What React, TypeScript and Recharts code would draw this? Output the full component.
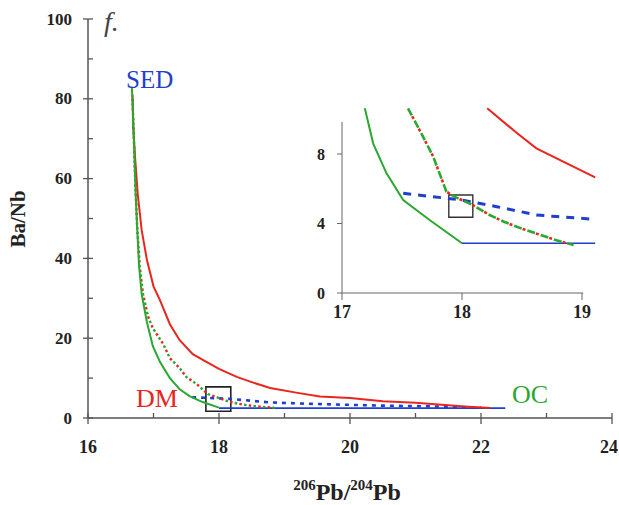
import React from "react";
import { ComposedChart, Line, XAxis, YAxis, ReferenceArea, ReferenceLine } from "recharts";

// ---------- Main panel data ----------
const mainXTicks = [16, 17, 18, 19, 20, 21, 22, 23, 24];
const mainYTicks = [0, 10, 20, 30, 40, 50, 60, 70, 80, 90, 100];

const greenSolid = [
  { x: 16.67, y: 83 }, { x: 16.69, y: 75 }, { x: 16.71, y: 65 }, { x: 16.73, y: 55 },
  { x: 16.75, y: 48 }, { x: 16.78, y: 38 }, { x: 16.82, y: 31 }, { x: 16.9, y: 24 },
  { x: 16.99, y: 18 }, { x: 17.1, y: 14 }, { x: 17.25, y: 10 }, { x: 17.4, y: 7.2 },
  { x: 17.55, y: 5.5 }, { x: 17.75, y: 4 }, { x: 18.0, y: 2.6 },
];

const redSolid = [
  { x: 16.68, y: 81 }, { x: 16.69, y: 73 }, { x: 16.72, y: 65 }, { x: 16.76, y: 56 },
  { x: 16.82, y: 47 }, { x: 16.9, y: 39.6 }, { x: 17.0, y: 33 }, { x: 17.1, y: 29.5 },
  { x: 17.25, y: 23.5 }, { x: 17.4, y: 19.5 }, { x: 17.6, y: 16 }, { x: 17.76, y: 14.5 },
  { x: 18.0, y: 12.3 }, { x: 18.27, y: 10.3 }, { x: 18.5, y: 9 }, { x: 18.78, y: 7.5 },
  { x: 19.2, y: 6.3 }, { x: 19.54, y: 5.4 }, { x: 20.0, y: 5.0 }, { x: 20.5, y: 4.2 },
  { x: 21.0, y: 3.8 }, { x: 21.4, y: 3.3 }, { x: 21.75, y: 2.9 }, { x: 22.14, y: 2.5 },
];

const mixDashed = [
  { x: 16.68, y: 80 }, { x: 16.7, y: 70 }, { x: 16.72, y: 60 }, { x: 16.75, y: 48 },
  { x: 16.79, y: 38 }, { x: 16.84, y: 31 }, { x: 16.92, y: 25.3 }, { x: 16.99, y: 22.5 },
  { x: 17.15, y: 18.5 }, { x: 17.25, y: 15 }, { x: 17.4, y: 12.5 }, { x: 17.5, y: 10.3 },
  { x: 17.66, y: 8.5 }, { x: 17.83, y: 6 }, { x: 18.0, y: 5 }, { x: 18.17, y: 4 },
  { x: 18.35, y: 3.4 }, { x: 18.52, y: 3 }, { x: 18.88, y: 2.5 },
];

const blueDashed = [
  { x: 17.59, y: 5.2 }, { x: 18.17, y: 4.8 }, { x: 18.78, y: 3.9 }, { x: 19.5, y: 3.5 },
  { x: 20.5, y: 3.1 }, { x: 21.3, y: 2.9 }, { x: 22.0, y: 2.6 },
];

const blueSolid = [{ x: 18.0, y: 2.5 }, { x: 22.37, y: 2.5 }];

// ---------- Inset data ----------
const insetXTicks = [17, 18, 19];
const insetYTicks = [0, 4, 8];

const insetGreenSolid = [
  { x: 17.19, y: 10.63 }, { x: 17.26, y: 8.6 }, { x: 17.37, y: 6.9 }, { x: 17.51, y: 5.35 },
  { x: 17.73, y: 4.2 }, { x: 18.0, y: 2.86 },
];
const insetBlueSolid = [{ x: 18.0, y: 2.86 }, { x: 19.11, y: 2.86 }];
const insetRedSolid = [
  { x: 18.21, y: 10.63 }, { x: 18.46, y: 9.19 }, { x: 18.62, y: 8.33 }, { x: 19.11, y: 6.66 },
];
const insetMixDashed = [
  { x: 17.55, y: 10.63 }, { x: 17.66, y: 9.2 }, { x: 17.76, y: 7.85 }, { x: 17.87, y: 5.83 },
  { x: 17.95, y: 5.5 }, { x: 18.09, y: 5.06 }, { x: 18.23, y: 4.49 }, { x: 18.35, y: 4.1 },
  { x: 18.5, y: 3.7 }, { x: 18.65, y: 3.35 }, { x: 18.78, y: 3.05 }, { x: 18.93, y: 2.76 },
];
const insetBlueDashed = [
  { x: 17.51, y: 5.74 }, { x: 18.0, y: 5.35 }, { x: 18.29, y: 4.97 }, { x: 18.62, y: 4.49 },
  { x: 18.79, y: 4.4 }, { x: 19.11, y: 4.24 },
];

const RED = "#e8261e";
const GREEN = "#2aa830";
const BLUE = "#1f3fcc";
const AXIS = "#555";
const FONT = "Liberation Serif, Times New Roman, Times, DejaVu Serif, serif";

const MainXTick = (props: any) => {
  const { x, y, payload } = props;
  const v = payload.value;
  const major = v % 2 === 0;
  const last = v === 24;
  return (
    <g>
      <line x1={x} x2={x} y1={y - 5} y2={major ? y + 6 : y} stroke={AXIS} strokeWidth={1.3} />
      {major && (
        <text
          x={last ? 618 : x}
          y={y + 35}
          textAnchor={last ? "end" : "middle"}
          style={{ fontFamily: FONT, fontWeight: "bold", fontSize: 18 }}
          fill="#222"
        >
          {v}
        </text>
      )}
    </g>
  );
};

const MainYTick = (props: any) => {
  const { x, y, payload } = props;
  const v = payload.value;
  const major = v % 20 === 0;
  return (
    <g>
      <line x1={major ? x - 5 : x} x2={x + 5} y1={y} y2={y} stroke={AXIS} strokeWidth={1.3} />
      {major && (
        <text x={x - 16} y={y + 5.5} textAnchor="end" style={{ fontFamily: FONT, fontWeight: "bold", fontSize: 17 }} fill="#222">
          {v}
        </text>
      )}
    </g>
  );
};

const InsetXTick = (props: any) => {
  const { x, y, payload } = props;
  return (
    <g>
      <line x1={x} x2={x} y1={y} y2={y + 7} stroke="#666" strokeWidth={1} />
      <text x={x} y={y + 25} textAnchor="middle" style={{ fontFamily: FONT, fontWeight: "bold", fontSize: 18 }} fill="#222">
        {payload.value}
      </text>
    </g>
  );
};

const InsetYTick = (props: any) => {
  const { x, y, payload } = props;
  return (
    <g>
      <line x1={x - 5} x2={x} y1={y} y2={y} stroke="#666" strokeWidth={1} />
      <text x={x - 17} y={y + 5.5} textAnchor="end" style={{ fontFamily: FONT, fontWeight: "bold", fontSize: 16 }} fill="#222">
        {payload.value}
      </text>
    </g>
  );
};

export default function App() {
  return (
    <div style={{ position: "absolute", left: 0, top: 0, width: 619, height: 505, background: "#fff", fontFamily: FONT }}>
      <div style={{ position: "absolute", left: 0, top: 0 }}>
        <ComposedChart width={619} height={505} margin={{ top: 19, right: 7, bottom: 0, left: 0 }}>
          <XAxis
            type="number"
            dataKey="x"
            domain={[16, 24]}
            ticks={mainXTicks}
            interval={0}
            height={87}
            tickSize={0}
            tickMargin={0}
            tickLine={false}
            tick={<MainXTick />}
            axisLine={{ stroke: AXIS, strokeWidth: 1.5 }}
            allowDataOverflow
          />
          <YAxis
            type="number"
            dataKey="y"
            domain={[0, 100]}
            ticks={mainYTicks}
            interval={0}
            width={88}
            tickSize={0}
            tickMargin={0}
            tickLine={false}
            tick={<MainYTick />}
            axisLine={{ stroke: AXIS, strokeWidth: 1.5 }}
            allowDataOverflow
          />
          <Line data={blueSolid} dataKey="y" stroke={BLUE} strokeWidth={1.8} dot={false} activeDot={false} isAnimationActive={false} />
          <Line data={blueDashed} dataKey="y" stroke={BLUE} strokeWidth={2.6} strokeDasharray="4 5" dot={false} activeDot={false} isAnimationActive={false} />
          <Line data={redSolid} dataKey="y" stroke={RED} strokeWidth={2} dot={false} activeDot={false} isAnimationActive={false} />
          <Line data={mixDashed} dataKey="y" stroke={RED} strokeWidth={2.4} strokeDasharray="2.5 7" dot={false} activeDot={false} isAnimationActive={false} />
          <Line data={mixDashed} dataKey="y" stroke={GREEN} strokeWidth={2.4} strokeDasharray="2.5 7" strokeDashoffset={4.75} dot={false} activeDot={false} isAnimationActive={false} />
          <Line data={greenSolid} dataKey="y" stroke={GREEN} strokeWidth={2} dot={false} activeDot={false} isAnimationActive={false} />
          <ReferenceArea x1={17.8} x2={18.18} y1={1.7} y2={7.8} fill="none" fillOpacity={0} stroke="#222" strokeWidth={1.6} />
        </ComposedChart>
      </div>

      <div style={{ position: "absolute", left: 290, top: 95 }}>
        <ComposedChart width={320} height={250} margin={{ top: 12.1, right: 13.6, bottom: 0, left: 0 }}>
          <XAxis
            type="number"
            dataKey="x"
            domain={[17, 19.12]}
            ticks={insetXTicks}
            interval={0}
            height={52}
            tickSize={0}
            tickMargin={0}
            tickLine={false}
            tick={<InsetXTick />}
            axisLine={false}
            allowDataOverflow
          />
          <YAxis
            type="number"
            dataKey="y"
            domain={[0, 10.7]}
            ticks={insetYTicks}
            interval={0}
            width={52}
            tickSize={0}
            tickMargin={0}
            tickLine={false}
            tick={<InsetYTick />}
            axisLine={false}
            allowDataOverflow
          />
          <ReferenceLine segment={[{ x: 17, y: 0 }, { x: 19.01, y: 0 }]} stroke="#666" strokeWidth={1} />
          <ReferenceLine segment={[{ x: 17, y: 0 }, { x: 17, y: 9.84 }]} stroke="#666" strokeWidth={1} />
          <Line data={insetBlueSolid} dataKey="y" stroke={BLUE} strokeWidth={1.6} dot={false} activeDot={false} isAnimationActive={false} />
          <Line data={insetBlueDashed} dataKey="y" stroke={BLUE} strokeWidth={3} strokeDasharray="8 7" dot={false} activeDot={false} isAnimationActive={false} />
          <Line data={insetRedSolid} dataKey="y" stroke={RED} strokeWidth={2} dot={false} activeDot={false} isAnimationActive={false} />
          <Line data={insetMixDashed} dataKey="y" stroke={RED} strokeWidth={2.6} strokeDasharray="3 11" strokeDashoffset={-9} dot={false} activeDot={false} isAnimationActive={false} />
          <Line data={insetMixDashed} dataKey="y" stroke={GREEN} strokeWidth={2.6} strokeDasharray="8 6" dot={false} activeDot={false} isAnimationActive={false} />
          <Line data={insetGreenSolid} dataKey="y" stroke={GREEN} strokeWidth={2} dot={false} activeDot={false} isAnimationActive={false} />
          <ReferenceArea x1={17.89} x2={18.09} y1={4.36} y2={5.64} fill="none" fillOpacity={0} stroke="#333" strokeWidth={1.4} />
        </ComposedChart>
      </div>

      <svg width={619} height={505} style={{ position: "absolute", left: 0, top: 0, pointerEvents: "none" }}>
        <text x={104} y={31} style={{ fontFamily: FONT, fontStyle: "italic", fontSize: 28 }} fill="#444">f.</text>
        <text x={126} y={88} style={{ fontFamily: FONT, fontSize: 25 }} fill={BLUE}>SED</text>
        <text x={136} y={407} style={{ fontFamily: FONT, fontSize: 26 }} fill={RED}>DM</text>
        <text x={512} y={403} style={{ fontFamily: FONT, fontSize: 26 }} fill={GREEN}>OC</text>
        <text
          x={25}
          y={219}
          textAnchor="middle"
          style={{ fontFamily: FONT, fontWeight: "bold", fontSize: 21 }}
          fill="#222"
          transform="rotate(-90, 25, 219)"
        >
          Ba/Nb
        </text>
        <text x={347} y={500} textAnchor="middle" style={{ fontFamily: FONT, fontWeight: "bold", fontSize: 24 }} fill="#222">
          <tspan style={{ fontSize: 15 }} dy={-10}>206</tspan>
          <tspan style={{ fontSize: 24 }} dy={10}>Pb/</tspan>
          <tspan style={{ fontSize: 15 }} dy={-10}>204</tspan>
          <tspan style={{ fontSize: 24 }} dy={10}>Pb</tspan>
        </text>
      </svg>
    </div>
  );
}
